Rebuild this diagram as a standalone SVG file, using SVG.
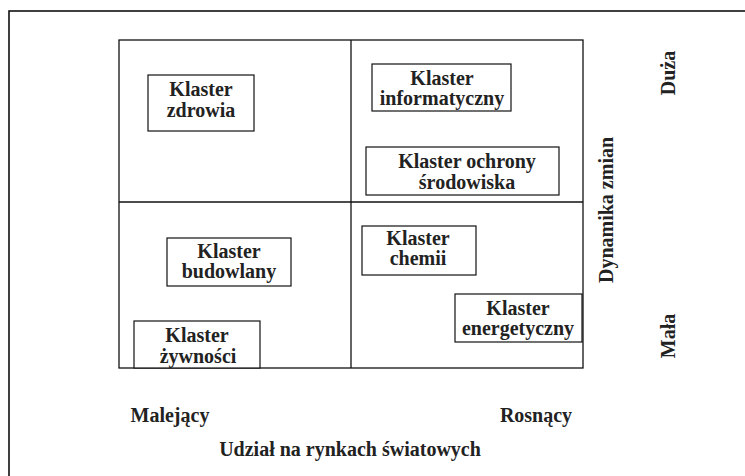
<svg xmlns="http://www.w3.org/2000/svg" width="745" height="476" viewBox="0 0 745 476">
  <style>
    .frame { fill: none; stroke: #111; stroke-width: 1.6; }
    .grid { fill: none; stroke: #111; stroke-width: 1.3; }
    .box { fill: #fff; stroke: #111; stroke-width: 1.2; }
    .lbl { font-family: "Liberation Serif", "Times New Roman", serif; font-weight: bold; font-size: 20px; fill: #222; text-anchor: middle; }
  </style>
  <rect width="745" height="476" fill="#fff"/>
  <!-- outer frame, running off the right and bottom edges -->
  <rect class="frame" x="9" y="11" width="760" height="490"/>

  <!-- quadrant grid -->
  <g id="grid">
    <rect class="grid" x="119" y="40" width="464" height="328"/>
    <line class="grid" x1="351" y1="40" x2="351" y2="368"/>
    <line class="grid" x1="119" y1="202" x2="583" y2="202"/>
  </g>

  <g id="klaster-zdrowia">
    <rect class="box" x="148" y="75" width="106" height="56"/>
    <text class="lbl" x="201" y="96">Klaster</text>
    <text class="lbl" x="201" y="117">zdrowia</text>
  </g>
  <g id="klaster-informatyczny">
    <rect class="box" x="372" y="64" width="139" height="47"/>
    <text class="lbl" x="442" y="85">Klaster</text>
    <text class="lbl" x="442" y="105">informatyczny</text>
  </g>
  <g id="klaster-ochrony">
    <rect class="box" x="366" y="147" width="193" height="48"/>
    <text class="lbl" x="467" y="168">Klaster ochrony</text>
    <text class="lbl" x="467" y="189">środowiska</text>
  </g>
  <g id="klaster-budowlany">
    <rect class="box" x="167" y="238" width="124" height="48"/>
    <text class="lbl" x="229" y="258">Klaster</text>
    <text class="lbl" x="229" y="278">budowlany</text>
  </g>
  <g id="klaster-zywnosci">
    <rect class="box" x="134" y="321" width="126" height="47"/>
    <text class="lbl" x="197" y="342">Klaster</text>
    <text class="lbl" x="198" y="363">żywności</text>
  </g>
  <g id="klaster-chemii">
    <rect class="box" x="362" y="226" width="114" height="49"/>
    <text class="lbl" x="418" y="245">Klaster</text>
    <text class="lbl" x="418" y="265">chemii</text>
  </g>
  <g id="klaster-energetyczny">
    <rect class="box" x="455" y="294" width="127" height="48"/>
    <text class="lbl" x="518" y="315">Klaster</text>
    <text class="lbl" x="518" y="335">energetyczny</text>
  </g>

  <!-- axis labels -->
  <g id="axis-y">
    <text class="lbl" transform="translate(613,210) rotate(-90)">Dynamika zmian</text>
    <text class="lbl" transform="translate(675,73) rotate(-90)">Duża</text>
    <text class="lbl" transform="translate(675,336) rotate(-90)">Mała</text>
  </g>
  <g id="axis-x">
    <text class="lbl" x="170" y="422">Malejący</text>
    <text class="lbl" x="536" y="422">Rosnący</text>
    <text class="lbl" x="350" y="456">Udział na rynkach światowych</text>
  </g>
</svg>
